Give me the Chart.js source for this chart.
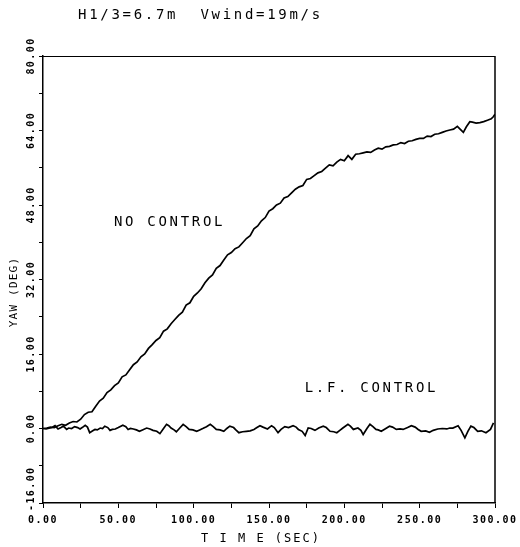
<!DOCTYPE html>
<html>
<head>
<meta charset="utf-8">
<title>Yaw response</title>
<script src="https://cdn.jsdelivr.net/npm/chart.js@4/dist/chart.umd.min.js"></script>
<style>
  html, body { margin: 0; padding: 0; background: #fff; }
  canvas { display: block; }
</style>
</head>
<body>
<canvas id="yawChart" width="520" height="547"></canvas>
<script>
// yaw angle time histories, H1/3 = 6.7 m, wind 19 m/s
const noControlTime = [
  0, 2.5, 5, 7.5, 10, 12.5, 15, 17.5, 20, 22.5, 25, 27.5, 30, 32.5, 35, 37.5, 40, 42.5, 45, 47.5,
  50, 52.5, 55, 57.5, 60, 62.5, 65, 67.5, 70, 72.5, 75, 77.5, 80, 82.5, 85, 87.5, 90, 92.5, 95, 97.5,
  100, 102.5, 105, 107.5, 110, 112.5, 115, 117.5, 120, 122.5, 125, 127.5, 130, 132.5, 135, 137.5,
  140, 142.5, 145, 147.5, 150, 152.5, 155, 157.5, 160, 162.5, 165, 167.5, 170, 172.5, 175, 177.5,
  180, 182.5, 185, 187.5, 190, 192.5, 195, 197.5, 200, 202.5, 205, 207.5, 210, 212.5, 215, 217.5,
  220, 222.5, 225, 227.5, 230, 232.5, 235, 237.5, 240, 242.5, 245, 247.5, 250, 252.5, 255, 257.5,
  260, 262.5, 265, 267.5, 270, 272.5, 275, 277.5, 279, 281, 283.3, 285, 287.5, 290, 292.5, 295,
  297.5, 299, 300
];
const noControlYaw = [
  0.0, 0.1, 0.3, 0.2, 0.6, 0.9, 0.7, 1.2, 1.5, 1.4, 2.0, 3.0, 3.5, 3.6, 4.8, 5.9, 6.5, 7.7, 8.3, 9.2,
  9.8, 11.1, 11.5, 12.6, 13.7, 14.3, 15.4, 16.0, 17.2, 18.0, 18.9, 19.5, 20.9, 21.4, 22.5, 23.4, 24.3, 25.0, 26.5, 27.0,
  28.4, 29.1, 30.0, 31.3, 32.3, 33.0, 34.4, 35.0, 36.2, 37.3, 37.8, 38.6, 39.0, 39.9, 40.8, 41.4,
  42.9, 43.5, 44.6, 45.3, 46.7, 47.2, 48.0, 48.4, 49.5, 49.8, 50.6, 51.4, 51.9, 52.2, 53.5, 53.7,
  54.3, 54.9, 55.2, 55.9, 56.6, 56.4, 57.2, 57.8, 57.5, 58.6, 57.8, 58.9, 59.0, 59.2, 59.4, 59.3,
  59.8, 60.2, 60.0, 60.5, 60.6, 60.9, 61.0, 61.4, 61.2, 61.7, 61.8, 62.1, 62.3, 62.3, 62.8, 62.7,
  63.2, 63.3, 63.6, 63.9, 64.1, 64.3, 64.9, 64.1, 63.6, 64.8, 65.9, 65.8, 65.6, 65.7, 65.9, 66.2,
  66.5, 67.0, 67.5
];

const lfControlTime = [
  0, 2, 4.6, 6, 8, 10, 12, 13.5, 15.7, 17, 19, 21, 23, 24.6, 26, 28, 29.5, 31, 33, 34.5,
  36, 38, 39.5, 41, 43, 44.5, 46, 48, 50, 53, 55, 56.5, 58, 60, 62, 64, 66, 68.8, 71, 73,
  75.5, 77.6, 80, 82, 83.5, 85, 87, 88.5, 90.5, 93, 95, 97, 99.5, 102, 104, 106, 108.5, 111, 113, 115,
  117.5, 120, 122, 124, 126.5, 128, 130, 132.5, 135, 137.5, 140, 142, 144, 146, 149, 151.7, 153.5, 156, 158, 160.5,
  163, 166, 168, 169.5, 172, 174, 176, 178, 180.5, 183, 186, 188, 190.5, 193, 195, 197, 199, 202.4, 204, 206,
  209, 211, 212.5, 215, 217, 219, 221, 222.5, 224.5, 227, 230, 232, 234.5, 237, 239, 242, 244.5, 247, 249, 251,
  254, 256.5, 259, 262, 265, 268, 270, 272, 275.5, 277.5, 280, 282, 284, 286, 288.5, 291, 294, 297, 299
];
const lfControlYaw = [
  0.0, -0.1, 0.1, 0.2, 0.6, -0.1, 0.2, 0.5, -0.2, 0.1, 0.0, 0.4, 0.2, -0.1, 0.2, 0.7, 0.3, -0.9, -0.5, -0.2,
  -0.3, 0.1, 0.0, 0.5, 0.2, -0.4, -0.2, -0.1, 0.2, 0.7, 0.4, -0.2, 0.0, -0.1, -0.3, -0.6, -0.3, 0.1, -0.1, -0.4,
  -0.6, -1.1, 0.0, 0.9, 0.6, 0.1, -0.3, -0.7, 0.0, 0.9, 0.4, -0.2, -0.3, -0.6, -0.3, 0.0, 0.4, 0.9, 0.4, -0.2,
  -0.3, -0.6, 0.0, 0.5, 0.2, -0.3, -0.9, -0.7, -0.6, -0.5, -0.2, 0.2, 0.6, 0.3, -0.1, 0.6, 0.2, -0.9, -0.2, 0.4,
  0.2, 0.6, 0.3, -0.2, -0.6, -1.5, 0.1, 0.0, -0.4, 0.1, 0.5, 0.2, -0.6, -0.7, -0.9, -0.4, 0.1, 0.9, 0.5, -0.2,
  0.1, -0.4, -1.3, 0.0, 0.9, 0.4, -0.2, -0.3, -0.6, -0.1, 0.5, 0.3, -0.2, -0.1, -0.2, 0.2, 0.6, 0.3, -0.2, -0.6,
  -0.5, -0.8, -0.4, -0.1, 0.0, -0.1, 0.1, 0.1, 0.6, -0.4, -2.0, -0.6, 0.5, 0.2, -0.6, -0.5, -0.9, -0.2, 1.2
];

const curveLabels = [
  { text: 'NO CONTROL', t: 84, yaw: 44.2 },
  { text: 'L.F. CONTROL', t: 218, yaw: 8.7 }
];
const yLabelStep = 16;
const xLabelStep = 50;

const MONO = '"DejaVu Sans Mono", "Liberation Mono", monospace';

function toPoints(times, values) {
  return times.map((t, i) => ({ x: t, y: values[i] }));
}

// frame, rotated y labels, titles and curve names
const plotText = {
  id: 'plotText',
  beforeDraw(chart) {
    chart.ctx.letterSpacing = '1.5px';
  },
  afterDraw(chart) {
    const ctx = chart.ctx;
    const area = chart.chartArea;
    const xs = chart.scales.x;
    const ys = chart.scales.y;

    ctx.save();
    ctx.strokeStyle = '#000';
    ctx.lineWidth = 1;
    ctx.beginPath();
    ctx.moveTo(area.left, area.top + 0.5);
    ctx.lineTo(area.right, area.top + 0.5);
    ctx.stroke();
    ctx.lineWidth = 1.5;
    ctx.beginPath();
    ctx.moveTo(area.right, area.top);
    ctx.lineTo(area.right, area.bottom);
    ctx.stroke();

    ctx.fillStyle = '#000';
    ctx.textBaseline = 'middle';

    // y tick labels, reading upward; the lowest one is pushed up clear of the x labels
    ctx.font = 'bold 10px ' + MONO;
    ctx.letterSpacing = '1.4px';
    ctx.textAlign = 'center';
    ys.ticks.forEach(tk => {
      if (tk.value % yLabelStep !== 0) return;
      const txt = tk.value.toFixed(2);
      const half = ctx.measureText(txt).width / 2;
      const cy = Math.min(ys.getPixelForValue(tk.value), area.bottom + 8 - half);
      ctx.save();
      ctx.translate(31, cy);
      ctx.rotate(-Math.PI / 2);
      ctx.fillText(txt, 0, 0);
      ctx.restore();
    });

    // y axis title
    ctx.font = '11px ' + MONO;
    ctx.letterSpacing = '1.2px';
    ctx.save();
    ctx.translate(14, 292);
    ctx.rotate(-Math.PI / 2);
    ctx.fillText('YAW (DEG)', 0, 0);
    ctx.restore();

    // x axis title
    ctx.font = '12px ' + MONO;
    ctx.letterSpacing = '2px';
    ctx.fillText('T I M E (SEC)', 261, 539);

    // heading
    ctx.font = '14px ' + MONO;
    ctx.letterSpacing = '2.7px';
    ctx.textAlign = 'left';
    ctx.fillText('H1/3=6.7m  Vwind=19m/s', 78, 15);

    // curve names
    ctx.textAlign = 'center';
    curveLabels.forEach(l => {
      ctx.fillText(l.text, xs.getPixelForValue(l.t), ys.getPixelForValue(l.yaw));
    });
    ctx.restore();
  }
};

new Chart(document.getElementById('yawChart'), {
  type: 'line',
  data: {
    datasets: [
      {
        label: 'NO CONTROL',
        data: toPoints(noControlTime, noControlYaw),
        borderColor: '#000',
        borderWidth: 1.7,
        pointRadius: 0,
        tension: 0
      },
      {
        label: 'L.F. CONTROL',
        data: toPoints(lfControlTime, lfControlYaw),
        borderColor: '#000',
        borderWidth: 1.7,
        pointRadius: 0,
        tension: 0
      }
    ]
  },
  options: {
    responsive: false,
    animation: false,
    devicePixelRatio: 1,
    layout: { padding: { top: 56, right: 25, left: 0, bottom: 0 } },
    plugins: {
      legend: { display: false },
      tooltip: { enabled: false }
    },
    scales: {
      x: {
        type: 'linear',
        min: 0,
        max: 300,
        afterFit: s => { s.height = 44; },
        ticks: {
          stepSize: 25,
          maxRotation: 0,
          autoSkip: false,
          padding: 6,
          color: '#000',
          font: { family: MONO, size: 10, weight: 'bold' },
          callback: v => (v % xLabelStep === 0 ? v.toFixed(2) : '')
        },
        grid: { drawOnChartArea: false, drawTicks: true, tickLength: 5, color: '#000', lineWidth: 1 },
        border: { display: true, color: '#000', width: 1.5 }
      },
      y: {
        type: 'linear',
        min: -16,
        max: 80,
        afterFit: s => { s.width = 43; },
        ticks: { stepSize: 8, display: false },
        grid: { drawOnChartArea: false, drawTicks: true, tickLength: 4, color: '#000', lineWidth: 1 },
        border: { display: true, color: '#000', width: 1.5 }
      }
    }
  },
  plugins: [plotText]
});
</script>
</body>
</html>
